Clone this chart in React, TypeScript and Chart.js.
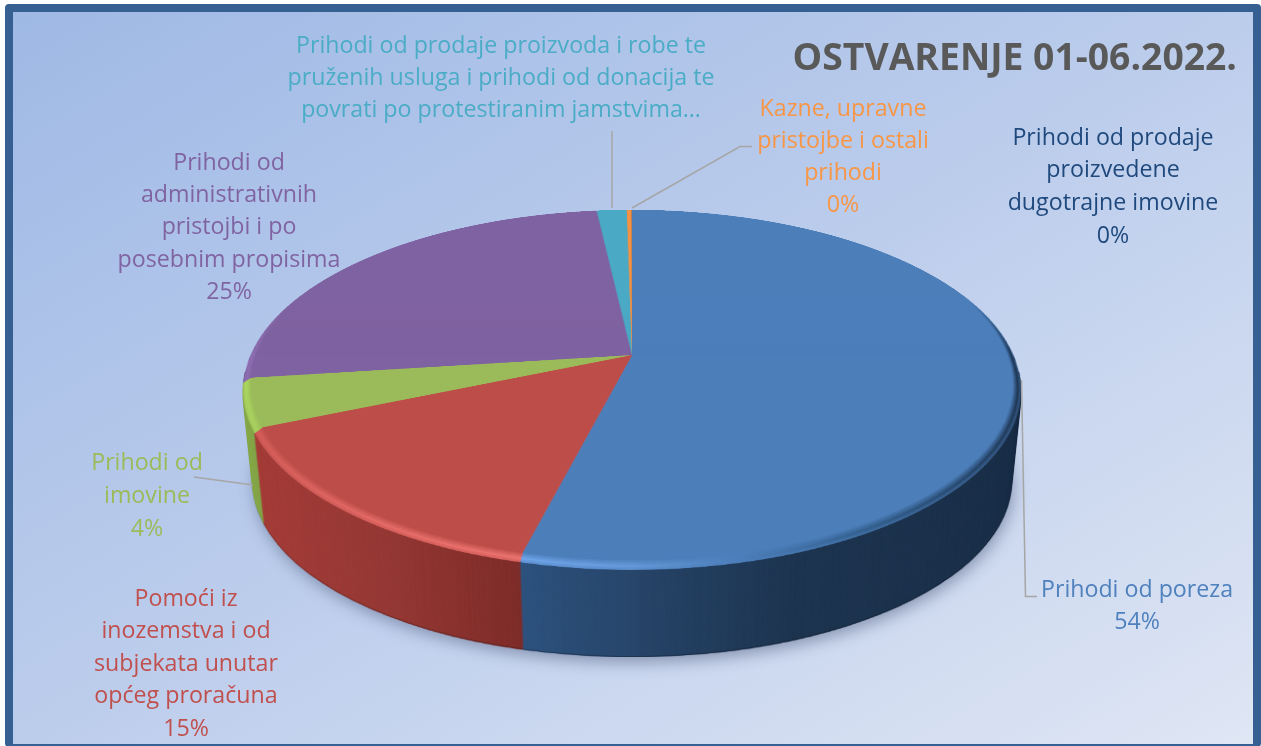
import React, { useEffect, useRef } from "react";
import Chart from "chart.js/auto";

const categories = [
  "Prihodi od poreza",
  "Pomoći iz inozemstva i od subjekata unutar općeg proračuna",
  "Prihodi od imovine",
  "Prihodi od administrativnih pristojbi i po posebnim propisima",
  "Prihodi od prodaje proizvoda i robe te pruženih usluga i prihodi od donacija te povrati po protestiranim jamstvima…",
  "Kazne, upravne pristojbe i ostali prihodi",
  "Prihodi od prodaje proizvedene dugotrajne imovine",
];
const values = [53.9, 14.6, 4.4, 25.3, 1.5, 0.25, 0.01];
const titleText = "OSTVARENJE 01-06.2022.";
const labelLines = [
  ["Prihodi od poreza"],
  ["Pomoći iz", "inozemstva i od", "subjekata unutar", "općeg proračuna"],
  ["Prihodi od", "imovine"],
  ["Prihodi od", "administrativnih", "pristojbi i po", "posebnim propisima"],
  ["Prihodi od prodaje proizvoda i robe te", "pruženih usluga i prihodi od donacija te", "povrati po protestiranim jamstvima…"],
  ["Kazne, upravne", "pristojbe i ostali", "prihodi"],
  ["Prihodi od prodaje", "proizvedene", "dugotrajne imovine"],
];
const showPercent = [true, true, true, true, false, true, true];

// styles
const baseColors = ["#4c7eba", "#bd4d49", "#9bba59", "#7f62a1", "#4aa9c4", "#f49243", "#1f497d"];
const textColors = ["#4f81bd", "#c0504d", "#9bbb59", "#8064a2", "#4bacc6", "#f79646", "#1f497d"];
type Stop = [number, string];
const wallStops: Stop[][] = [
  [[519, "#2f5480"], [650, "#274467"], [800, "#1f3651"], [1021, "#1c3049"]],
  [[255, "#a63f3b"], [380, "#973a36"], [519, "#7f2e2b"]],
  [[243, "#8fb04f"], [262, "#7f9e46"]],
  [[243, "#6a5286"], [600, "#6a5286"]],
  [[590, "#3c8ba2"], [640, "#3c8ba2"]],
  [[620, "#c87735"], [640, "#c87735"]],
  [[620, "#1f3a5c"], [640, "#1f3a5c"]],
];
const rimStops: Stop[][] = [
  [[519, "#6fa5ea"], [630, "#6599da"], [730, "#4e80bd"], [860, "#33608f"], [1021, "#1d3451"]],
  [[255, "#d45d59"], [380, "#e56b67"], [519, "#ec7470"]],
  [[243, "#abd760"], [262, "#a5cf5e"]],
  [[243, "#8d6eb2"], [600, "#7f62a1"]],
  [[590, "#4aa9c4"], [640, "#4aa9c4"]],
  [[620, "#f49243"], [640, "#f49243"]],
  [[620, "#1f497d"], [640, "#1f497d"]],
];

// perspective layout of the disc
const CX = 632;
const Y0 = 359;
const D = 389;
const PERSP = 0.172;
const PB = 174.7;
const PA = 383.2;
const RIM = 6;
const RIM_SHIFT = 1.5;
const DEPTH = 87;
const WALL_SHRINK = 0.025;
const FRONT_Y = 570;

// label layout: centre x, centre y of the first line
const labelPos: [number, number][] = [
  [1137, 590], [186, 599], [147, 463], [229, 163], [501, 46], [843, 109], [1113, 138],
];
const lineHeights = [32.5, 32.5, 33, 32.3, 32, 32, 32.7];
const leaders: [number, number][][] = [
  [[1021.5, 380], [1025.5, 596.5], [1037, 596.5]],
  [[194, 477], [253, 485]],
  [[612, 131], [612, 208]],
  [[632, 208], [740, 146.5], [752, 146.5]],
];

const hex = (h: string) => [1, 3, 5].map((i) => parseInt(h.slice(i, i + 2), 16));
const mix = (a: string, b: string, t: number) => {
  const A = hex(a), B = hex(b);
  return `rgb(${A.map((v, i) => Math.round(v + (B[i] - v) * t)).join(",")})`;
};
// image x on the front edge -> x in the flat disc
const toDisc = (x: number) => {
  let best = CX, err = 1e9;
  for (let a = -90; a <= 90; a += 0.25) {
    const r = (a * Math.PI) / 180;
    const e = Math.abs(CX + (PA * Math.sin(r)) / (1 - PERSP * Math.cos(r)) - x);
    if (e < err) { err = e; best = CX + D * Math.sin(r); }
  }
  return best;
};

const pie3d = {
  id: "pie3d",
  beforeDraw(chart: any) {
    const { ctx, width, height } = chart;
    ctx.save();
    const g = ctx.createLinearGradient(313, -164, 953, 920);
    g.addColorStop(0, "#9fb9e5");
    g.addColorStop(0.5, "#bccdec");
    g.addColorStop(1, "#dfe6f4");
    ctx.fillStyle = "#ffffff";
    ctx.fillRect(0, 0, width, height);
    ctx.fillStyle = "#366092";
    ctx.beginPath();
    ctx.roundRect(5, 4, 1256, 743, 4);
    ctx.fill();
    ctx.fillStyle = g;
    ctx.fillRect(13, 12, 1240, 732);
    ctx.restore();
  },
  beforeDatasetsDraw(chart: any) {
    const { ctx, width, height } = chart;
    const arcs: any[] = chart.getDatasetMeta(0).data;
    const ax = arcs[0].x;
    const ay = arcs[0].y;
    const srcH = 2 * D + 20;
    const srcCy = D + 10;

    const makeCanvas = (h: number) => {
      const c = document.createElement("canvas");
      c.width = width;
      c.height = h;
      return c;
    };
    const drawArc = (target: any, arc: any, radius: number, fill: any) => {
      const clone = Object.create(arc);
      clone.outerRadius = radius;
      clone.options = { ...arc.options, backgroundColor: fill, borderWidth: 0 };
      clone.draw(target);
    };
    const gradient = (target: any, stops: Stop[], fn: (c: string) => string) => {
      const xs = stops.map((s) => toDisc(s[0]) + (ax - CX));
      const x0 = xs[0], x1 = Math.max(xs[xs.length - 1], x0 + 1);
      const gr = target.createLinearGradient(x0, 0, x1, 0);
      stops.forEach(([, c], i) => gr.addColorStop(Math.min(1, Math.max(0, (xs[i] - x0) / (x1 - x0))), fn(c)));
      return gr;
    };
    // warp the flat disc row by row into its perspective view
    const warp = (src: HTMLCanvasElement) => {
      const out = makeCanvas(height);
      const o = out.getContext("2d") as CanvasRenderingContext2D;
      const vAt = (y: number) => (y - Y0) / (PB + PERSP * (y - Y0));
      for (let y = 205; y < 578; y++) {
        const v0 = Math.max(-1.01, Math.min(1.01, vAt(y)));
        const v1 = Math.max(-1.01, Math.min(1.01, vAt(y + 1)));
        const vm = (v0 + v1) / 2;
        const sx = PA / D / (1 - PERSP * vm);
        const h = Math.max((v1 - v0) * D, 0.01);
        o.drawImage(src, 0, srcCy + v0 * D, width, h, CX - CX * sx, y, width * sx, 1);
      }
      return out;
    };

    // side wall, one flat layer
    const wallFlat = makeCanvas(srcH);
    const w = wallFlat.getContext("2d") as CanvasRenderingContext2D;
    w.translate(CX - ax, srcCy - ay);
    arcs.forEach((arc, i) => drawArc(w, arc, D, gradient(w, wallStops[i], (c) => c)));
    const wall = warp(wallFlat);

    // top surface with a soft bevel, outer ring first
    const topFlat = makeCanvas(srcH);
    const t = topFlat.getContext("2d") as CanvasRenderingContext2D;
    t.beginPath();
    t.arc(CX, srcCy, D, 0, Math.PI * 2);
    t.clip();
    for (let j = 0; j <= RIM; j++) {
      const a = j <= 2 ? 0.55 + (j / 2) * 0.45 : 1 - (j - 2) / (RIM - 2);
      t.save();
      t.translate(CX - ax, srcCy - ay - j * RIM_SHIFT);
      arcs.forEach((arc, i) => {
        drawArc(t, arc, D - j, gradient(t, rimStops[i], (c) => mix(baseColors[i], c, a)));
      });
      t.restore();
    }
    // the back of the disc has no bevel: fade plain colours over it
    const plain = makeCanvas(srcH);
    const p = plain.getContext("2d") as CanvasRenderingContext2D;
    p.save();
    p.translate(CX - ax, srcCy - ay - RIM * RIM_SHIFT);
    arcs.forEach((arc, i) => drawArc(p, arc, D + RIM * RIM_SHIFT, baseColors[i]));
    p.restore();
    const fade = p.createLinearGradient(0, srcCy - 0.35 * D, 0, srcCy - 0.02 * D);
    fade.addColorStop(0, "rgba(0,0,0,1)");
    fade.addColorStop(1, "rgba(0,0,0,0)");
    p.globalCompositeOperation = "destination-in";
    p.fillStyle = fade;
    p.fillRect(0, 0, width, srcH);
    t.drawImage(plain, 0, 0);
    const top = warp(topFlat);

    // the wall narrows a little with depth, as the far edge is further away
    const wallAt = (dy: number) => {
      const s = 1 - (WALL_SHRINK * dy) / DEPTH;
      ctx.drawImage(wall, CX - CX * s, FRONT_Y + dy - FRONT_Y * s, width * s, height * s);
    };
    ctx.save();
    ctx.beginPath();
    ctx.rect(0, 372, width, height - 372);
    ctx.clip();
    ctx.save();
    ctx.shadowColor = "rgba(50,65,100,0.45)";
    ctx.shadowBlur = 16;
    ctx.shadowOffsetY = 5;
    ctx.shadowOffsetX = 2;
    wallAt(DEPTH);
    ctx.restore();
    ctx.save();
    ctx.filter = "brightness(0.75)";
    wallAt(DEPTH);
    ctx.restore();
    for (let dy = DEPTH - 1; dy >= 0; dy--) wallAt(dy);
    ctx.restore();
    ctx.drawImage(top, 0, 0);
    return false;
  },
  afterDraw(chart: any) {
    const { ctx } = chart;
    const total = values.reduce((a, b) => a + b, 0);
    ctx.save();
    ctx.strokeStyle = "#a6a6a6";
    ctx.lineWidth = 1.5;
    leaders.forEach((pts) => {
      ctx.beginPath();
      pts.forEach(([x, y], i) => (i ? ctx.lineTo(x, y) : ctx.moveTo(x, y)));
      ctx.stroke();
    });
    ctx.font = '23.2px "Open Sans"';
    ctx.textAlign = "center";
    ctx.textBaseline = "middle";
    labelLines.forEach((lines, i) => {
      const all = showPercent[i] ? [...lines, `${Math.round((values[i] / total) * 100)}%`] : lines;
      ctx.fillStyle = textColors[i];
      all.forEach((line, j) => {
        ctx.fillText(line, labelPos[i][0], labelPos[i][1] + j * lineHeights[i]);
      });
    });
    ctx.restore();
  },
};

export default function App() {
  const ref = useRef<HTMLCanvasElement>(null);
  useEffect(() => {
    document.body.style.margin = "0";
    const chart = new Chart(ref.current as HTMLCanvasElement, {
      type: "pie",
      data: {
        labels: categories,
        datasets: [{ data: values, backgroundColor: baseColors, borderWidth: 0, radius: D } as any],
      },
      options: {
        responsive: false,
        animation: false,
        devicePixelRatio: 1,
        layout: { padding: { right: 24 } },
        plugins: {
          legend: { display: false },
          tooltip: { enabled: false },
          title: {
            display: true,
            text: titleText,
            align: "end",
            color: "#595959",
            font: { family: '"Open Sans"', size: 37.3, weight: "bold" },
            padding: { top: 37, bottom: 0 },
          },
        },
      },
      plugins: [pie3d],
    } as any);
    return () => chart.destroy();
  }, []);
  return <canvas ref={ref} width={1261} height={746} style={{ display: "block" }} />;
}
